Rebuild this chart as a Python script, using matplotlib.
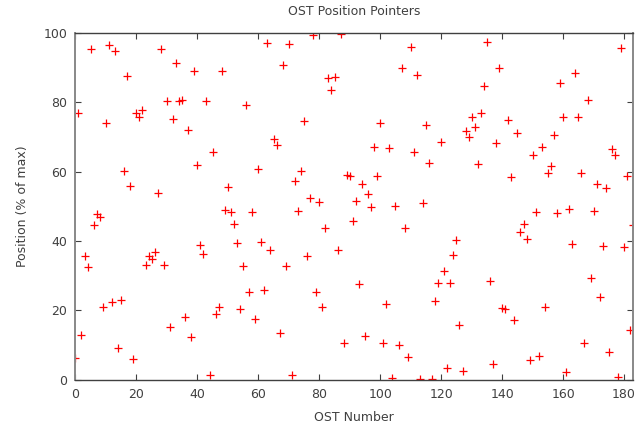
import matplotlib
matplotlib.use("Agg")
import matplotlib.pyplot as plt
import numpy as np

# Position pointer (% of max) for each OST, index 0..183
ost_numbers = np.arange(184)
positions = [
    6.4, 77.0, 13.0, 35.7, 32.5, 95.3, 44.6, 47.7, 47.0, 21.0,
    74.0, 96.5, 22.5, 94.8, 9.3, 23.0, 60.3, 87.7, 55.9, 6.0,
    77.0, 75.8, 77.7, 33.1, 35.8, 34.8, 36.8, 53.9, 95.3, 33.1,
    80.3, 15.3, 75.1, 91.3, 80.3, 80.6, 18.0, 72.1, 12.4, 89.0,
    61.8, 38.9, 36.2, 80.3, 1.4, 65.7, 19.0, 21.0, 89.0, 49.0,
    55.5, 48.3, 44.8, 39.5, 20.5, 32.9, 79.2, 25.4, 48.3, 17.6,
    60.9, 39.8, 25.8, 97.0, 37.3, 69.4, 67.6, 13.4, 90.8, 32.9,
    96.7, 1.4, 57.4, 48.7, 60.2, 74.6, 35.7, 52.4, 99.3, 25.4,
    51.2, 21.1, 43.8, 86.9, 83.5, 87.3, 37.3, 99.7, 10.6, 59.0,
    58.9, 45.7, 51.6, 27.6, 56.4, 12.6, 53.7, 49.9, 67.1, 58.7,
    74.0, 10.7, 22.0, 66.8, 0.5, 50.1, 10.1, 89.8, 43.8, 6.5,
    96.0, 65.6, 87.9, 0.3, 50.9, 73.4, 62.5, 0.3, 22.8, 28.0,
    68.5, 31.4, 3.4, 28.0, 36.0, 40.3, 15.9, 2.6, 71.7, 70.0,
    75.7, 73.0, 62.2, 76.9, 84.6, 97.3, 28.5, 4.5, 68.3, 90.0,
    20.7, 20.5, 74.8, 58.4, 17.4, 71.1, 42.7, 44.8, 40.5, 5.8,
    64.8, 48.3, 6.8, 67.1, 21.1, 59.6, 61.6, 70.6, 48.0, 85.5,
    75.9, 2.2, 49.4, 39.1, 88.4, 75.9, 59.7, 10.5, 80.6, 29.3,
    48.7, 56.4, 24.0, 38.7, 55.3, 8.0, 66.6, 64.8, 0.7, 95.8,
    38.4, 58.7, 14.3, 44.7,
]
x_ticks = [0, 20, 40, 60, 80, 100, 120, 140, 160, 180]
y_ticks = [0, 20, 40, 60, 80, 100]

fig = plt.figure(figsize=(6.39, 4.23), dpi=100)
ax = fig.add_axes([0.118, 0.102, 0.873, 0.82])

ax.plot(ost_numbers, positions, linestyle="none", marker="+",
        markersize=5.5, markeredgewidth=0.9, color="#ff0000")

ax.set_xlim(0, 183)
ax.set_ylim(0, 100)
ax.set_xticks(x_ticks)
ax.set_yticks(y_ticks)

text_color = "#404040"
ax.tick_params(direction="in", top=True, right=True, length=4,
               width=0.8, color="#404040", labelsize=9,
               labelcolor=text_color, pad=6)
for side in ["left", "right"]:
    ax.spines[side].set_color("#888888")
    ax.spines[side].set_linewidth(1.4)
for side in ["top", "bottom"]:
    ax.spines[side].set_color("#404040")
    ax.spines[side].set_linewidth(1.0)

ax.set_title("OST Position Pointers", fontsize=9, color=text_color, pad=13)
ax.set_xlabel("OST Number", fontsize=9, color=text_color, labelpad=7)
ax.set_ylabel("Position (% of max)", fontsize=9, color=text_color, labelpad=10)

fig.savefig("out.png", dpi=100)
